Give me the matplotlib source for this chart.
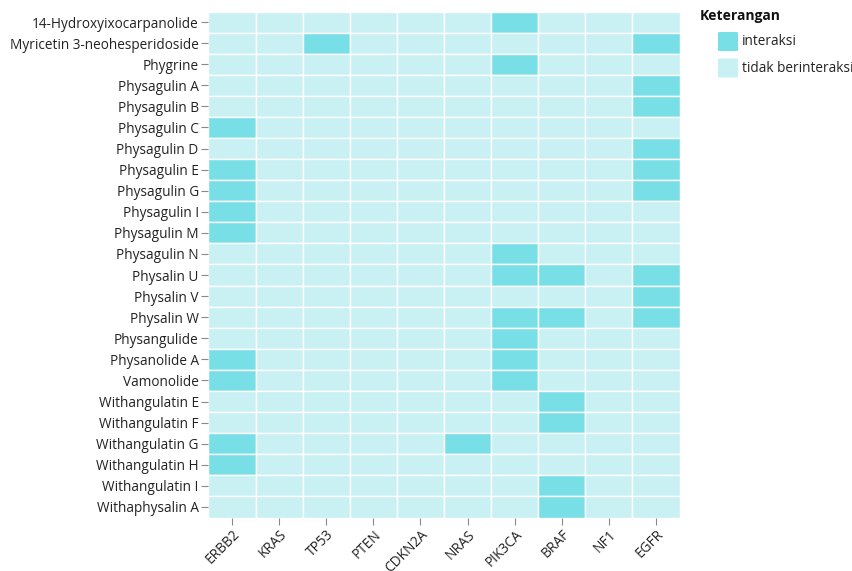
import matplotlib
matplotlib.use("Agg")
import matplotlib.pyplot as plt
from matplotlib.patches import Rectangle, FancyBboxPatch
import numpy as np

plt.rcParams['font.family'] = ['Open Sans', 'DejaVu Sans']

compounds = [
    "14-Hydroxyixocarpanolide", "Myricetin 3-neohesperidoside", "Phygrine",
    "Physagulin A", "Physagulin B", "Physagulin C", "Physagulin D",
    "Physagulin E", "Physagulin G", "Physagulin I", "Physagulin M",
    "Physagulin N", "Physalin U", "Physalin V", "Physalin W", "Physangulide",
    "Physanolide A", "Vamonolide", "Withangulatin E", "Withangulatin F",
    "Withangulatin G", "Withangulatin H", "Withangulatin I", "Withaphysalin A",
]
genes = ["ERBB2", "KRAS", "TP53", "PTEN", "CDKN2A", "NRAS", "PIK3CA", "BRAF", "NF1", "EGFR"]

interactions = {
    "14-Hydroxyixocarpanolide": ["PIK3CA"],
    "Myricetin 3-neohesperidoside": ["TP53", "EGFR"],
    "Phygrine": ["PIK3CA"],
    "Physagulin A": ["EGFR"],
    "Physagulin B": ["EGFR"],
    "Physagulin C": ["ERBB2"],
    "Physagulin D": ["EGFR"],
    "Physagulin E": ["ERBB2", "EGFR"],
    "Physagulin G": ["ERBB2", "EGFR"],
    "Physagulin I": ["ERBB2"],
    "Physagulin M": ["ERBB2"],
    "Physagulin N": ["PIK3CA"],
    "Physalin U": ["PIK3CA", "BRAF", "EGFR"],
    "Physalin V": ["EGFR"],
    "Physalin W": ["PIK3CA", "BRAF", "EGFR"],
    "Physangulide": ["PIK3CA"],
    "Physanolide A": ["ERBB2", "PIK3CA"],
    "Vamonolide": ["ERBB2", "PIK3CA"],
    "Withangulatin E": ["BRAF"],
    "Withangulatin F": ["BRAF"],
    "Withangulatin G": ["ERBB2", "NRAS"],
    "Withangulatin H": ["ERBB2"],
    "Withangulatin I": ["BRAF"],
    "Withaphysalin A": ["BRAF"],
}

legend_title = "Keterangan"
legend_labels = ["interaksi", "tidak berinteraksi"]
col_yes = "#79DFE7"
col_no = "#C9F0F3"

fig = plt.figure(figsize=(8.53, 5.71), dpi=100)
ax = fig.add_axes([208.4/853, 1-517.5/571, (679.6-208.4)/853, (517.5-11.5)/571])

for i, c in enumerate(compounds):
    for j, g in enumerate(genes):
        color = col_yes if g in interactions[c] else col_no
        ax.add_patch(Rectangle((j - 0.5, i - 0.5), 1, 1, facecolor=color,
                               edgecolor="white", linewidth=1.0))

ax.set_xlim(-0.5, len(genes) - 0.5)
ax.set_ylim(len(compounds) - 0.5, -0.5)
ax.set_xticks(range(len(genes)))
ax.set_xticklabels(genes, rotation=45, ha="right", rotation_mode="anchor", fontsize=9.8, color="#222222")
ax.set_yticks(range(len(compounds)))
ax.set_yticklabels(compounds, fontsize=9.8, color="#222222")
ax.tick_params(axis="both", length=5, width=0.8, color="#888888", pad=2)
for s in ax.spines.values():
    s.set_visible(False)

# legend
fig.text(700/853, 1-16/571, legend_title, fontsize=10, fontweight="bold", va="center", ha="left", color="#111111")
for k, (lab, col) in enumerate(zip(legend_labels, [col_yes, col_no])):
    yc = 41.5 + k * 26.5
    fig.patches.append(FancyBboxPatch((718/853, 1-(yc+9.5)/571), 20/853, 19/571,
                                      boxstyle="round,pad=0,rounding_size=0.002",
                                      facecolor=col, edgecolor="none", transform=fig.transFigure, figure=fig))
    fig.text(742/853, 1-yc/571, lab, fontsize=9.8, va="center", ha="left", color="#222222")

fig.savefig("out.png", dpi=100)
